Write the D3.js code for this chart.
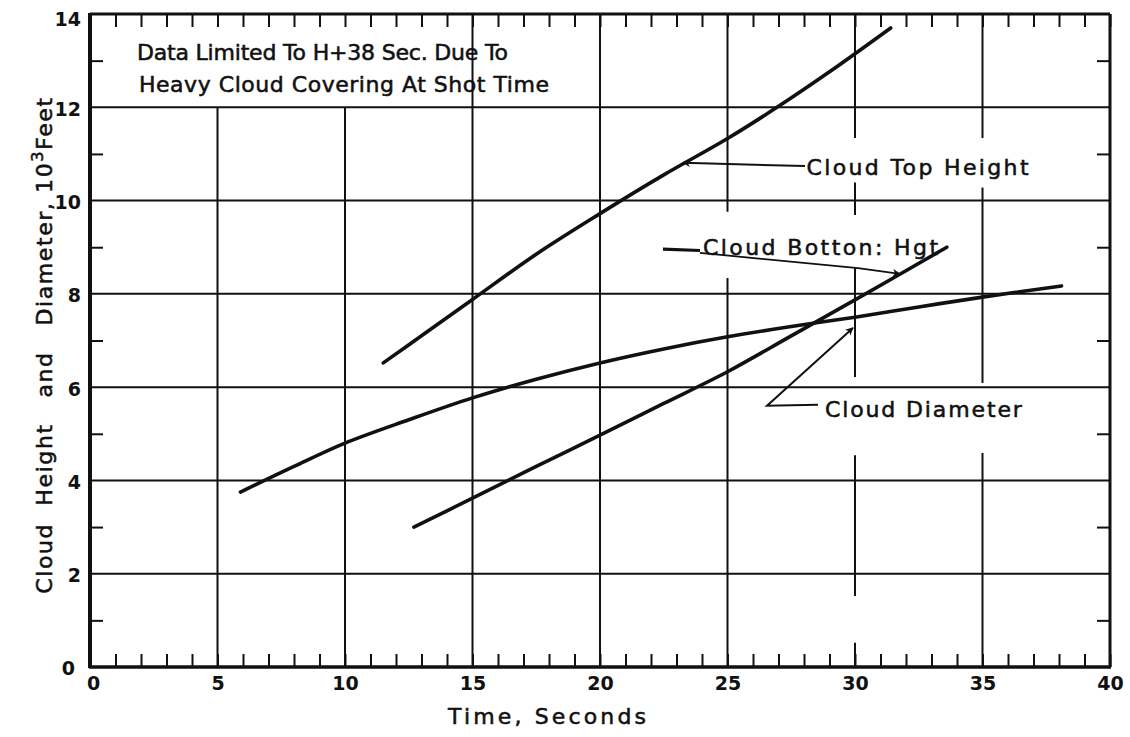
<!DOCTYPE html>
<html>
<head>
<meta charset="utf-8">
<script src="https://cdn.jsdelivr.net/npm/d3@7"></script>
<style>
  html, body { margin: 0; padding: 0; background: #ffffff; }
  svg { display: block; }
  text { font-family: "DejaVu Sans", "Liberation Sans", sans-serif; fill: #111; }
  text.ann { stroke: #111; stroke-width: 0.55px; }
</style>
</head>
<body>
<svg id="chart" width="1130" height="737"></svg>
<script>
// ---------------- data ----------------
const xTicks = [0, 5, 10, 15, 20, 25, 30, 35, 40];
const xTickLabels = ["0", "5", "10", "15", "20", "25", "30", "35", "40"];
const yTicks = [0, 2, 4, 6, 8, 10, 12, 14];
const yTickLabels = ["0", "2", "4", "6", "8", "10", "12", "14"];

// Cloud Top Height (10^3 ft) vs time (s)
const topTime   = [11.5, 13, 15, 17.5, 20, 22.5, 25, 27, 29, 31.4];
const topHeight = [6.52, 7.1, 7.88, 8.85, 9.72, 10.55, 11.33, 12.02, 12.76, 13.7];

// Cloud Diameter
const diamTime  = [5.9, 8, 10, 12.5, 15, 17.5, 20, 22.5, 25, 27.5, 30, 32.5, 35, 38.1];
const diamValue = [3.75, 4.3, 4.8, 5.3, 5.77, 6.17, 6.52, 6.82, 7.08, 7.3, 7.5, 7.72, 7.93, 8.17];

// Cloud Bottom Height
const botTime   = [12.7, 15, 17.5, 20, 22.5, 25, 27.5, 30, 33.6];
const botHeight = [3.0, 3.62, 4.3, 4.97, 5.65, 6.33, 7.1, 7.87, 9.0];

// texts
const noteLines  = ["Data Limited To H+38 Sec. Due To", "Heavy Cloud Covering At Shot Time"];
const labelTexts = ["Cloud Top Height", "Cloud Botton: Hgt", "Cloud Diameter"];
const xTitle = "Time, Seconds";
const yTitleMain = "Cloud  Height   and   Diameter, 10";
const yTitleSup = "3";
const yTitleEnd = "Feet";

// breaks in the vertical grid lines of the original sheet (data units)
const gapX    = [5, 10, 25, 30, 30, 30, 30, 35, 35];
const gapFrom = [12, 12, 8.34, 0.52, 4.54, 8.55, 10.39, 4.59, 10.28];
const gapTo   = [14, 14, 9.76, 1.52, 6.22, 9.69, 11.34, 6.09, 11.34];

// ---------------- chart ----------------
const svg = d3.select("#chart");
const x = d3.scaleLinear().domain([0, 40]).range([90, 1110]);
const y = d3.scaleLinear().domain([0, 14]).range([667, 14]);
const ink = "#111";

// horizontal grid
svg.append("g").selectAll("line")
  .data(yTicks.filter(d => d > 0 && d < 14))
  .join("line")
  .attr("x1", x(0)).attr("x2", x(40))
  .attr("y1", d => y(d)).attr("y2", d => y(d))
  .attr("stroke", ink).attr("stroke-width", 2);

// vertical grid with breaks
const vSegs = [];
xTicks.filter(d => d > 0 && d < 40).forEach(v => {
  const gaps = gapX.map((gx, i) => ({ gx, a: gapFrom[i], b: gapTo[i] }))
    .filter(g => g.gx === v).sort((p, q) => p.a - q.a);
  let start = 0;
  gaps.forEach(g => { if (g.a > start) vSegs.push({ v, a: start, b: g.a }); start = g.b; });
  if (start < 14) vSegs.push({ v, a: start, b: 14 });
});
svg.append("g").selectAll("line")
  .data(vSegs).join("line")
  .attr("x1", d => x(d.v)).attr("x2", d => x(d.v))
  .attr("y1", d => y(d.a)).attr("y2", d => y(d.b))
  .attr("stroke", ink).attr("stroke-width", 2);

// minor ticks via d3 axes
const minorX = d3.range(0, 41);
const minorY = d3.range(1, 14, 2);
const tickLen = 13;
const axMinorB = svg.append("g").attr("transform", `translate(0,${y(0)})`)
  .call(d3.axisBottom(x).tickValues(minorX).tickSize(-tickLen).tickFormat(""));
const axMinorT = svg.append("g").attr("transform", `translate(0,${y(14)})`)
  .call(d3.axisTop(x).tickValues(minorX).tickSize(-tickLen).tickFormat(""));
const axMinorL = svg.append("g").attr("transform", `translate(${x(0)},0)`)
  .call(d3.axisLeft(y).tickValues(minorY).tickSize(-tickLen).tickFormat(""));
const axMinorR = svg.append("g").attr("transform", `translate(${x(40)},0)`)
  .call(d3.axisRight(y).tickValues(minorY).tickSize(-tickLen).tickFormat(""));
[axMinorB, axMinorT, axMinorL, axMinorR].forEach(a => {
  a.select(".domain").remove();
  a.selectAll(".tick line").attr("stroke", ink).attr("stroke-width", 2);
});

// frame
svg.append("line").attr("x1", x(0)).attr("x2", x(40)).attr("y1", y(14)).attr("y2", y(14))
  .attr("stroke", ink).attr("stroke-width", 3);
svg.append("line").attr("x1", x(40)).attr("x2", x(40)).attr("y1", y(14)).attr("y2", y(0))
  .attr("stroke", ink).attr("stroke-width", 3);
svg.append("line").attr("x1", x(0) - 1).attr("x2", x(40) + 1).attr("y1", y(0)).attr("y2", y(0))
  .attr("stroke", ink).attr("stroke-width", 3.5);
svg.append("line").attr("x1", x(0)).attr("x2", x(0)).attr("y1", y(14) - 1).attr("y2", y(0) + 1)
  .attr("stroke", ink).attr("stroke-width", 4);

// tick labels
const axX = svg.append("g").attr("transform", `translate(0,${y(0)})`)
  .call(d3.axisBottom(x).tickValues(xTicks).tickSize(0).tickPadding(10)
    .tickFormat((d, i) => xTickLabels[i]));
axX.select(".domain").remove();
axX.selectAll("text").attr("font-size", 19).attr("font-weight", "bold")
  .attr("font-family", "DejaVu Sans, sans-serif").attr("fill", ink);
axX.selectAll(".tick").filter(d => d === 0).select("text").attr("dx", 3);

const axY = svg.append("g").attr("transform", `translate(${x(0)},0)`)
  .call(d3.axisLeft(y).tickValues(yTicks).tickSize(0).tickPadding(9)
    .tickFormat((d, i) => yTickLabels[i]));
axY.select(".domain").remove();
axY.selectAll("text").attr("font-size", 19).attr("font-weight", "bold")
  .attr("font-family", "DejaVu Sans, sans-serif").attr("fill", ink).attr("dy", "0.42em");
axY.selectAll(".tick").filter(d => d === 0).select("text").attr("dx", -6);
axY.selectAll(".tick").filter(d => d === 14).select("text").attr("dy", "0.6em");

// curves
const line = d3.line().x(d => x(d[0])).y(d => y(d[1])).curve(d3.curveCatmullRom.alpha(0.5));
const series = [
  d3.zip(topTime, topHeight),
  d3.zip(diamTime, diamValue),
  d3.zip(botTime, botHeight)
];
svg.append("g").selectAll("path").data(series).join("path")
  .attr("d", line)
  .attr("fill", "none").attr("stroke", ink).attr("stroke-width", 3.6)
  .attr("stroke-linecap", "round").attr("stroke-linejoin", "round");

// arrow marker
const defs = svg.append("defs");
defs.append("marker").attr("id", "arr").attr("viewBox", "0 0 10 10")
  .attr("refX", 9).attr("refY", 5).attr("markerWidth", 11).attr("markerHeight", 8)
  .attr("markerUnits", "userSpaceOnUse").attr("orient", "auto")
  .append("path").attr("d", "M0,0 L10,5 L0,10 L3,5 Z").attr("fill", ink);

// annotations: notes
svg.append("text").attr("class", "ann").attr("x", x(1.84)).attr("y", y(13.01)).attr("font-size", 22)
  .attr("textLength", 371).attr("lengthAdjust", "spacing").text(noteLines[0]);
svg.append("text").attr("class", "ann").attr("x", x(1.92)).attr("y", y(12.33)).attr("font-size", 22)
  .attr("textLength", 410).attr("lengthAdjust", "spacing").text(noteLines[1]);

// label texts
svg.append("text").attr("class", "ann").attr("x", x(28.1)).attr("y", y(10.55)).attr("font-size", 22)
  .attr("textLength", 222).attr("lengthAdjust", "spacing").text(labelTexts[0]);
svg.append("text").attr("class", "ann").attr("x", x(24.04)).attr("y", y(8.84)).attr("font-size", 22)
  .attr("textLength", 235).attr("lengthAdjust", "spacing").text(labelTexts[1]);
svg.append("text").attr("class", "ann").attr("x", x(28.82)).attr("y", y(5.36)).attr("font-size", 22)
  .attr("textLength", 197).attr("lengthAdjust", "spacing").text(labelTexts[2]);

// leaders
const pl = d3.line().x(d => x(d[0])).y(d => y(d[1]));
svg.append("path").attr("d", pl([[28.04, 10.74], [23.25, 10.81]]))
  .attr("fill", "none").attr("stroke", ink).attr("stroke-width", 2).attr("marker-end", "url(#arr)");
svg.append("path").attr("d", pl([[22.47, 8.96], [23.92, 8.93]]))
  .attr("fill", "none").attr("stroke", ink).attr("stroke-width", 3.2);
svg.append("path").attr("d", pl([[23.92, 8.88], [30.12, 8.55], [31.76, 8.43]]))
  .attr("fill", "none").attr("stroke", ink).attr("stroke-width", 1.8).attr("marker-end", "url(#arr)");
svg.append("path").attr("d", pl([[28.55, 5.62], [26.55, 5.60], [29.92, 7.27]]))
  .attr("fill", "none").attr("stroke", ink).attr("stroke-width", 2).attr("marker-end", "url(#arr)");

// axis titles
svg.append("text").attr("class", "ann").attr("x", 547).attr("y", 724).attr("text-anchor", "middle")
  .attr("font-size", 22).attr("textLength", 198).attr("lengthAdjust", "spacing").text(xTitle);

const yt = svg.append("text").attr("class", "ann").attr("transform", "translate(52,345) rotate(-90)")
  .attr("text-anchor", "middle").attr("font-size", 22).attr("letter-spacing", 1.6)
  .style("white-space", "pre");
yt.append("tspan").text(yTitleMain);
yt.append("tspan").attr("dy", -9).attr("font-size", 16).text(yTitleSup);
yt.append("tspan").attr("dy", 9).text(yTitleEnd);
</script>
</body>
</html>
